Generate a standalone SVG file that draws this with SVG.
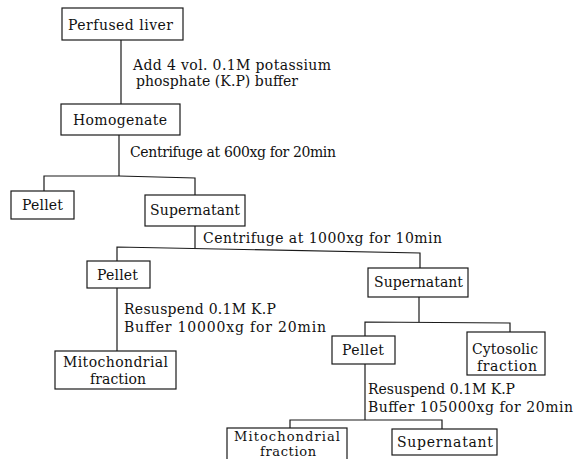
<svg xmlns="http://www.w3.org/2000/svg" width="583" height="459" viewBox="0 0 583 459">
<style>
.box{fill:#fff;stroke:#1a1a1a;stroke-width:1.2}
.ln{fill:none;stroke:#1a1a1a;stroke-width:1.2}
text{font-family:"DejaVu Serif","Liberation Serif",serif;font-size:14px;fill:#111}
.sm{font-size:13px}
</style>
<rect width="583" height="459" fill="#fff"/>
<g id="connectors">
<line class="ln" x1="121" y1="40" x2="121" y2="104"/>
<polyline class="ln" points="44,191 44,176 119,176 195,178 195,195"/>
<line class="ln" x1="119" y1="135" x2="119" y2="176"/>
<polyline class="ln" points="117,262 117,247 420,253 420,268"/>
<line class="ln" x1="195" y1="226" x2="195" y2="248"/>
<line class="ln" x1="117" y1="288" x2="117" y2="351"/>
<polyline class="ln" points="365,336 365,322 510,323 510,332"/>
<line class="ln" x1="419" y1="297" x2="419" y2="322"/>
<polyline class="ln" points="290,428 290,420 442,420 442,429"/>
<line class="ln" x1="365" y1="364" x2="365" y2="420"/>
</g>
<g id="perfused-liver"><rect class="box" x="62" y="8" width="121" height="32"/><text x="68" y="30" textLength="105">Perfused liver</text></g>
<g id="step1-label"><text x="133" y="70" textLength="198">Add 4 vol. 0.1M potassium</text><text x="136" y="86" textLength="162">phosphate (K.P) buffer</text></g>
<g id="homogenate"><rect class="box" x="61" y="104" width="119" height="31"/><text x="73" y="125" textLength="94">Homogenate</text></g>
<g id="step2-label"><text x="130" y="157" textLength="206">Centrifuge at 600xg for 20min</text></g>
<g id="pellet1"><rect class="box" x="11" y="191" width="63" height="28"/><text x="22" y="210" textLength="41">Pellet</text></g>
<g id="supernatant1"><rect class="box" x="145" y="195" width="100" height="31"/><text x="150" y="215" textLength="90">Supernatant</text></g>
<g id="step3-label"><text x="203" y="243" textLength="239">Centrifuge at 1000xg for 10min</text></g>
<g id="pellet2"><rect class="box" x="87" y="261" width="63" height="27"/><text x="97" y="280" textLength="41">Pellet</text></g>
<g id="supernatant2"><rect class="box" x="368" y="268" width="100" height="29"/><text x="374" y="287" textLength="89">Supernatant</text></g>
<g id="step4-label"><text x="124" y="314" textLength="152">Resuspend 0.1M K.P</text><text x="124" y="332" textLength="202">Buffer 10000xg for 20min</text></g>
<g id="mito1"><rect class="box" x="55" y="351" width="121" height="38"/><text x="63" y="367" textLength="105">Mitochondrial</text><text x="90" y="384" textLength="56">fraction</text></g>
<g id="pellet3"><rect class="box" x="332" y="336" width="63" height="28"/><text x="342" y="355" textLength="42">Pellet</text></g>
<g id="cytosolic"><rect class="box" x="467" y="332" width="78" height="43"/><text x="472" y="354" textLength="66">Cytosolic</text><text x="477" y="371" textLength="60">fraction</text></g>
<g id="step5-label"><text x="368" y="394" textLength="147">Resuspend 0.1M K.P</text><text x="368" y="412" textLength="205">Buffer 105000xg for 20min</text></g>
<g id="mito2"><rect class="box" x="227" y="428" width="120" height="40"/><text class="sm" x="234" y="441" textLength="106">Mitochondrial</text><text class="sm" x="260" y="456" textLength="56">fraction</text></g>
<g id="supernatant3"><rect class="box" x="392" y="429" width="105" height="26"/><text x="397" y="447" textLength="96">Supernatant</text></g>
</svg>
